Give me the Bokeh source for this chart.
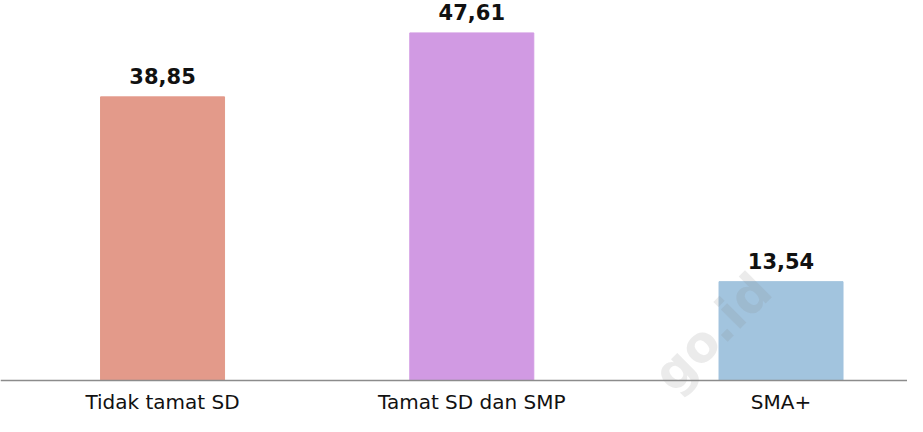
import numpy as np
from bokeh.plotting import figure
from bokeh.models import ColumnDataSource, Range1d, Span, Label
from bokeh.core.properties import value
from bokeh.embed import file_html
from bokeh.resources import INLINE

categories = ["Tidak tamat SD", "Tamat SD dan SMP", "SMA+"]
values = [38.85, 47.61, 13.54]
value_labels = ["38,85", "47,61", "13,54"]
colors = ["#E39A8A", "#D19AE3", "#A2C4DE"]

idx = np.arange(len(categories))
src = ColumnDataSource(dict(x=idx, top=values, label=value_labels, color=colors,
                            base=np.zeros(len(idx)), cat=categories))

W, H = 907, 416
p = figure(width=W, height=H, output_backend="svg", toolbar_location=None,
           x_range=Range1d(-0.524, 2.409), y_range=Range1d(-4.93, 52.05),
           min_border=0)
p.axis.visible = False
p.grid.visible = False
p.outline_line_color = None

wm = Label(x=712, y=84, x_units="screen", y_units="screen", text="go.id",
           angle=45, angle_units="deg", text_font="DejaVu Sans", text_font_style="bold",
           text_font_size="50px", text_color="#888888", text_alpha=0.17,
           text_align="center", text_baseline="middle")

p.vbar(x="x", top="top", width=0.401, color="color", source=src)
p.add_layout(Span(location=0, dimension="width", line_color="#8C8C8C", line_width=1.5))
p.add_layout(wm)

p.text(x="x", y="top", text="label", source=src, text_align="center",
       text_baseline="bottom", y_offset=-13, text_font_size="21px",
       text_font_style="bold", text_font=value("DejaVu Sans"), text_color="#111111")
p.text(x="x", y="base", text="cat", source=src, text_align="center",
       text_baseline="top", y_offset=9, text_font_size="20px",
       text_font=value("DejaVu Sans"), text_color="#111111")

open("out.html", "w").write(file_html(p, INLINE))
